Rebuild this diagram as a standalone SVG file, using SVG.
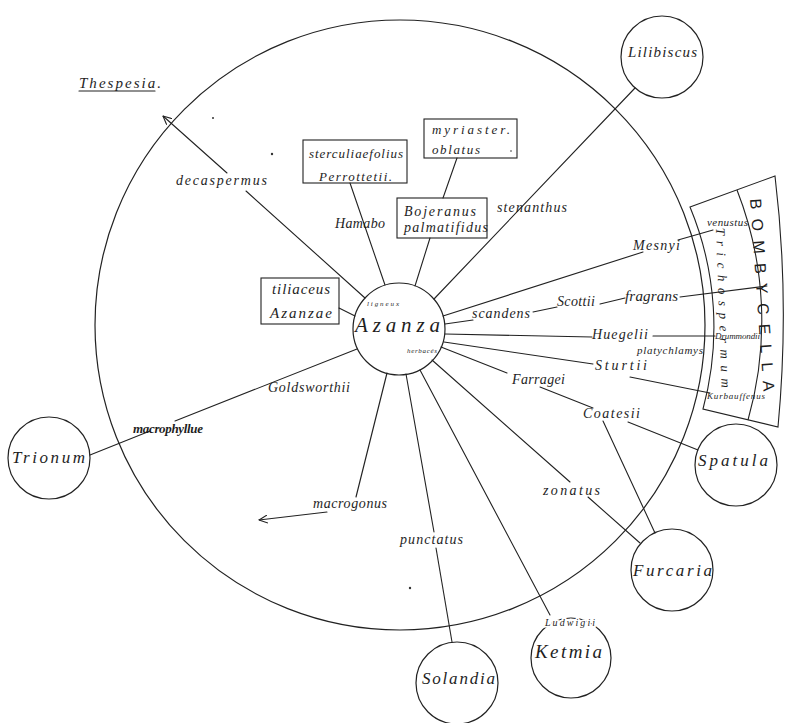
<svg xmlns="http://www.w3.org/2000/svg" width="787" height="723" viewBox="0 0 787 723">
<style>
.ln{stroke:#222;stroke-width:1.1;fill:none;stroke-linecap:round}
.nd{fill:none;stroke:#222;stroke-width:1.2}
.bx{fill:none;stroke:#222;stroke-width:1.1}
.t{font-family:"Liberation Serif","DejaVu Serif",serif;font-style:italic;fill:#1e1e1e}
.s{font-family:"Liberation Sans","DejaVu Sans",sans-serif;fill:#1e1e1e}
.halo{paint-order:stroke;stroke:#fff;stroke-width:3}
</style>
<defs>
<marker id="arr" viewBox="0 0 10 10" refX="9.5" refY="5" markerWidth="9" markerHeight="9" orient="auto" markerUnits="userSpaceOnUse">
<path d="M0,0.5 L9.5,5 L0,9.5" fill="none" stroke="#222" stroke-width="1.2"/>
</marker>
</defs>
<rect width="787" height="723" fill="#fff"/>

<g id="big-circle"><circle class="nd" cx="400" cy="325" r="305" stroke-width="1.3"/></g>

<g id="connectors">
<line class="ln" x1="365" y1="298" x2="246" y2="191"/>
<line class="ln" x1="227" y1="173" x2="163" y2="116" marker-end="url(#arr)"/>
<line class="ln" x1="385" y1="285" x2="350" y2="183"/>
<line class="ln" x1="415" y1="286" x2="430" y2="238"/>
<line class="ln" x1="443" y1="198" x2="457" y2="158"/>
<line class="ln" x1="434" y1="299" x2="635" y2="88"/>
<line class="ln" x1="339" y1="308" x2="355" y2="316"/>
<line class="ln" x1="443" y1="316" x2="643" y2="252"/>
<line class="ln" x1="678" y1="240" x2="713" y2="230"/>
<line class="ln" x1="445" y1="324" x2="473" y2="320"/>
<line class="ln" x1="533" y1="312" x2="557" y2="307"/>
<line class="ln" x1="600" y1="304" x2="625" y2="298"/>
<line class="ln" x1="680" y1="297" x2="767" y2="286"/>
<line class="ln" x1="445" y1="334" x2="592" y2="337"/>
<line class="ln" x1="653" y1="336" x2="715" y2="336"/>
<line class="ln" x1="444" y1="342" x2="593" y2="364"/>
<line class="ln" x1="630" y1="377" x2="710" y2="393"/>
<line class="ln" x1="441" y1="347" x2="507" y2="373"/>
<line class="ln" x1="540" y1="387" x2="593" y2="408"/>
<line class="ln" x1="628" y1="422" x2="698" y2="450"/>
<line class="ln" x1="603" y1="421" x2="655" y2="533"/>
<line class="ln" x1="432" y1="360" x2="570" y2="482"/>
<line class="ln" x1="588" y1="497" x2="640" y2="543"/>
<line class="ln" x1="420" y1="370" x2="550" y2="615"/>
<line class="ln" x1="406" y1="374" x2="434" y2="532"/>
<line class="ln" x1="436" y1="548" x2="452" y2="642"/>
<line class="ln" x1="387" y1="373" x2="356" y2="497"/>
<line class="ln" x1="327" y1="512" x2="259" y2="520" marker-end="url(#arr)"/>
<line class="ln" x1="357" y1="349" x2="175" y2="421"/>
<line class="ln" x1="150" y1="431" x2="90" y2="455"/>
</g>

<g id="azanza"><circle class="nd" cx="399" cy="329" r="46"/>
<text class="t" x="355" y="332" font-size="21" textLength="85" lengthAdjust="spacing">Azanza</text>
<text class="t" x="367" y="306" font-size="7" textLength="32" lengthAdjust="spacing">ligneux</text>
<text class="t" x="407" y="353" font-size="7" textLength="30" lengthAdjust="spacing">herbacés</text>
</g>

<g id="lilibiscus"><circle class="nd" cx="662" cy="57" r="41"/>
<text class="t" x="628" y="57" font-size="15" textLength="69" lengthAdjust="spacing">Lilibiscus</text></g>
<g id="trionum"><circle class="nd" cx="49" cy="458" r="41"/>
<text class="t" x="12" y="463" font-size="17" textLength="73" lengthAdjust="spacing">Trionum</text></g>
<g id="spatula"><circle class="nd" cx="736" cy="465" r="41"/>
<text class="t" x="698" y="466" font-size="17" textLength="70" lengthAdjust="spacing">Spatula</text></g>
<g id="furcaria"><circle class="nd" cx="672" cy="570" r="41"/>
<text class="t" x="633" y="576" font-size="17" textLength="79" lengthAdjust="spacing">Furcaria</text></g>
<g id="ketmia"><circle class="nd" cx="571" cy="658" r="40"/>
<text class="t" x="535" y="658" font-size="19" textLength="67" lengthAdjust="spacing">Ketmia</text>
<text class="t halo" x="545" y="626" font-size="10" textLength="50" lengthAdjust="spacing">Ludwigii</text></g>
<g id="solandia"><circle class="nd" cx="457" cy="683" r="41"/>
<text class="t" x="422" y="684" font-size="17" textLength="73" lengthAdjust="spacing">Solandia</text></g>

<g id="box-sterculiaefolius"><rect class="bx" x="303" y="140" width="104" height="43"/>
<text class="t" x="309" y="158" font-size="13" textLength="94" lengthAdjust="spacing">sterculiaefolius</text>
<text class="t" x="319" y="181" font-size="13" textLength="73" lengthAdjust="spacing">Perrottetii.</text></g>
<g id="box-myriaster"><rect class="bx" x="424" y="119" width="93" height="39"/>
<text class="t" x="432" y="134" font-size="13" textLength="78" lengthAdjust="spacing">myriaster.</text>
<text class="t" x="432" y="154" font-size="13" textLength="48" lengthAdjust="spacing">oblatus</text></g>
<g id="box-bojeranus"><rect class="bx" x="397" y="198" width="90" height="40"/>
<text class="t" x="404" y="216" font-size="14" textLength="72" lengthAdjust="spacing">Bojeranus</text>
<text class="t" x="404" y="232" font-size="14" textLength="84" lengthAdjust="spacing">palmatifidus</text></g>
<g id="box-tiliaceus"><rect class="bx" x="261" y="278" width="78" height="46"/>
<text class="t" x="272" y="294" font-size="15" textLength="58" lengthAdjust="spacing">tiliaceus</text>
<text class="t" x="270" y="318" font-size="15" textLength="62" lengthAdjust="spacing">Azanzae</text></g>

<g id="bombycella">
<path class="bx" d="M690,207 L775,176 Q790,300 778,427 L703,409 A313,313 0 0 0 690,207 Z"/>
<path class="bx" d="M737,190 A360,360 0 0 1 748,420"/>
<text class="s" transform="translate(750,199) rotate(86)" font-size="16" textLength="193" lengthAdjust="spacing">BOMBYCELLA</text>
<text class="t" transform="translate(716,228) rotate(88)" font-size="13" textLength="160" lengthAdjust="spacing">Trichospermum</text>
</g>

<g id="thespesia">
<text class="t" x="79" y="88" font-size="15" textLength="82" lengthAdjust="spacing">Thespesia.</text>
<line class="ln" x1="79" y1="91" x2="155" y2="91"/>
</g>

<g id="labels">
<text class="t" x="176" y="185" font-size="14" textLength="91" lengthAdjust="spacing">decaspermus</text>
<text class="t" x="335" y="228" font-size="14" textLength="50" lengthAdjust="spacing">Hamabo</text>
<text class="t" x="497" y="212" font-size="14" textLength="70" lengthAdjust="spacing">stenanthus</text>
<text class="t" x="633" y="250" font-size="14" textLength="47" lengthAdjust="spacing">Mesnyi</text>
<text class="t" x="707" y="226" font-size="11" textLength="41" lengthAdjust="spacing">venustus</text>
<text class="t" x="472" y="318" font-size="14" textLength="58" lengthAdjust="spacing">scandens</text>
<text class="t" x="557" y="306" font-size="14" textLength="38" lengthAdjust="spacing">Scottii</text>
<text class="t" x="625" y="301" font-size="15" textLength="53" lengthAdjust="spacing">fragrans</text>
<text class="t" x="592" y="339" font-size="14" textLength="56" lengthAdjust="spacing">Huegelii</text>
<text class="t" x="715" y="339" font-size="9" textLength="45" lengthAdjust="spacing">Drummondii</text>
<text class="t" x="637" y="354" font-size="11" textLength="66" lengthAdjust="spacing">platychlamys</text>
<text class="t" x="595" y="370" font-size="14" textLength="52" lengthAdjust="spacing">Sturtii</text>
<text class="t" x="707" y="399" font-size="9" textLength="58" lengthAdjust="spacing">Kurbauffenus</text>
<text class="t" x="512" y="384" font-size="14" textLength="53" lengthAdjust="spacing">Farragei</text>
<text class="t" x="583" y="418" font-size="14" textLength="57" lengthAdjust="spacing">Coatesii</text>
<text class="t" x="543" y="495" font-size="14" textLength="57" lengthAdjust="spacing">zonatus</text>
<text class="t" x="400" y="544" font-size="14" textLength="63" lengthAdjust="spacing">punctatus</text>
<text class="t" x="313" y="508" font-size="14" textLength="74" lengthAdjust="spacing">macrogonus</text>
<text class="t" x="268" y="392" font-size="14" textLength="82" lengthAdjust="spacing">Goldsworthii</text>
<text class="t" x="133" y="433" font-size="13" font-weight="bold" textLength="70" lengthAdjust="spacing">macrophyllue</text>
</g>

<g id="specks" fill="#333">
<circle cx="213" cy="118" r="1"/>
<circle cx="272" cy="154" r="1.2"/>
<circle cx="410" cy="588" r="1.2"/>
<circle cx="511" cy="151" r="0.8"/>
</g>
</svg>
